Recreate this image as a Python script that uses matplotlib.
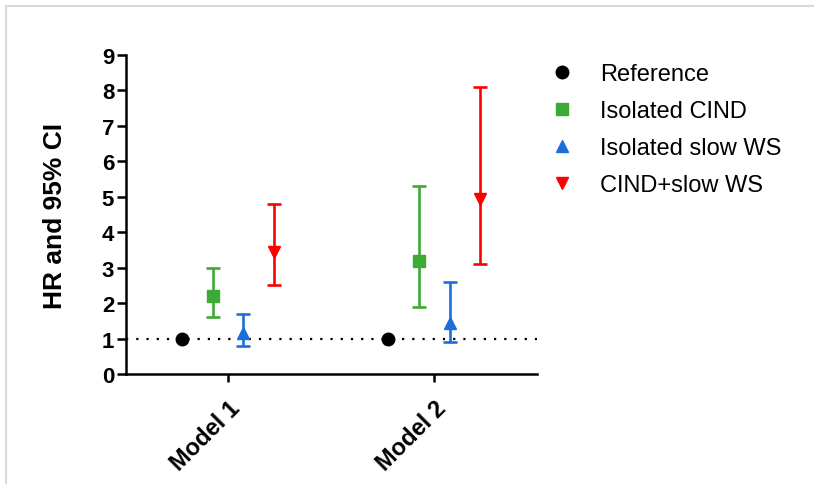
import matplotlib
matplotlib.use("Agg")
import matplotlib.pyplot as plt
from matplotlib.lines import Line2D
import numpy as np

plt.rcParams["font.family"] = ["Liberation Sans", "DejaVu Sans"]

models = ["Model 1", "Model 2"]
groups = ["Reference", "Isolated CIND", "Isolated slow WS", "CIND+slow WS"]
hr = [[1.0, 1.0], [2.2, 3.2], [1.15, 1.45], [3.45, 4.95]]
ci_low = [[None, None], [1.6, 1.9], [0.8, 0.9], [2.5, 3.1]]
ci_high = [[None, None], [3.0, 5.3], [1.7, 2.6], [4.8, 8.1]]

colors = ["black", "#3DAA35", "#1C6FDB", "#FF0000"]
markers = ["o", "s", "^", "v"]
offsets = [-0.225, -0.075, 0.075, 0.225]

fig = plt.figure(figsize=(8.14, 4.85), dpi=100)
ax = fig.add_axes([0.1548, 0.2268, 0.505, 0.6577])

x = np.arange(len(models))
ax.axhline(1, color="black", lw=1.6, linestyle=(0, (1, 3.6)), zorder=1)

for i, g in enumerate(groups):
    xs = x + offsets[i]
    y = np.array(hr[i])
    if ci_low[i][0] is None:
        ax.plot(xs, y, linestyle="none", marker=markers[i], color=colors[i],
                markersize=9, label=g, zorder=3)
    else:
        lo = y - np.array(ci_low[i])
        hi = np.array(ci_high[i]) - y
        ax.errorbar(xs, y, yerr=[lo, hi], fmt=markers[i], color=colors[i],
                    ecolor=colors[i], elinewidth=1.9, capsize=5, capthick=1.9,
                    markersize=9, label=g, zorder=3)

ax.set_xlim(-0.495, 1.5)
ax.set_ylim(0, 9)
ax.set_yticks(range(0, 10))
ax.set_xticks(x)
ax.set_xticklabels(models, rotation=45, ha="right", va="top",
                   rotation_mode="anchor", fontweight="bold", fontsize=17)
for lab in ax.get_yticklabels():
    lab.set_fontweight("bold")
ax.tick_params(axis="y", labelsize=16, width=1.8, length=6.5, pad=2)
ax.tick_params(axis="x", width=1.8, length=6, pad=10)
ax.set_ylabel("HR and 95% CI", fontsize=19, fontweight="bold", labelpad=25)

for s in ["top", "right"]:
    ax.spines[s].set_visible(False)
for s in ["left", "bottom"]:
    ax.spines[s].set_linewidth(1.8)

# legend handles: markers only
handles = [Line2D([], [], linestyle="none", marker=markers[i], color=colors[i],
                  markersize=9 if i == 0 else 8) for i in range(len(groups))]
ax.legend(handles, groups, loc="upper left", bbox_to_anchor=(0.664, 0.887),
          bbox_transform=fig.transFigure, frameon=False, fontsize=17,
          handlelength=1.0, handletextpad=1.13, labelspacing=0.63,
          borderaxespad=0)

# light frame around the figure
fig.add_artist(Line2D([0.007, 1.0], [0.986, 0.986], transform=fig.transFigure,
                      color="#d9d9d9", lw=1.5))
fig.add_artist(Line2D([0.007, 0.007], [0.0, 0.986], transform=fig.transFigure,
                      color="#d9d9d9", lw=1.5))

fig.savefig("out.png", dpi=100)
